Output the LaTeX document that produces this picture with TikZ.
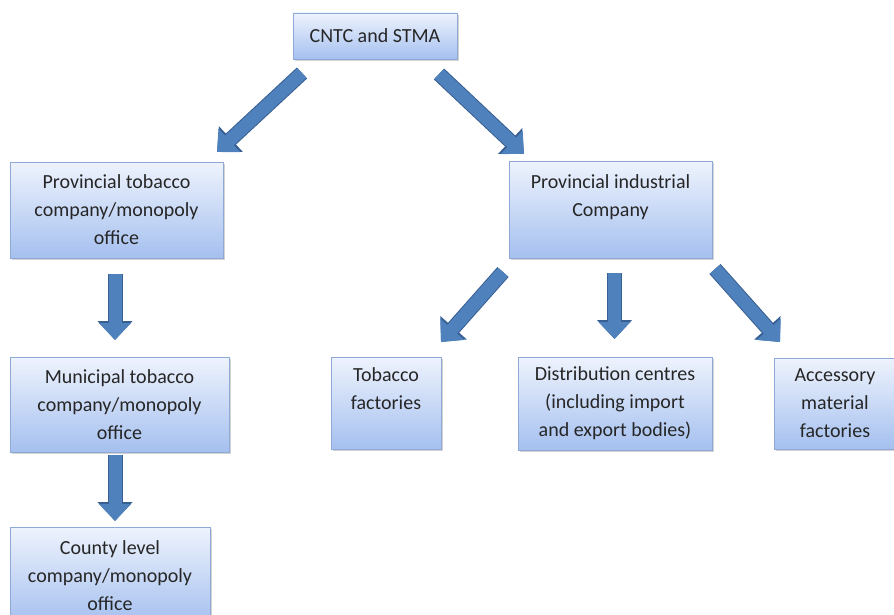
\documentclass[tikz,border=0pt]{standalone}
\usepackage{fontspec}
\setmainfont{Carlito}
\usetikzlibrary{arrows.meta,shadows}

\definecolor{boxtop}{HTML}{EEF3FD}
\definecolor{boxbot}{HTML}{A5C0EF}
\definecolor{boxedge}{HTML}{8FA9D6}
\definecolor{arrowfill}{HTML}{4F81BD}
\definecolor{arrowedge}{HTML}{385F92}

\begin{document}
\begin{tikzpicture}[x=1pt,y=-1pt,
  orgbox/.style={draw=boxedge,line width=0.8pt,top color=boxtop,bottom color=boxbot,
    align=center,inner sep=0pt,text=black!85,font=\fontsize{20}{28}\selectfont,
    drop shadow={shadow xshift=1.5pt,shadow yshift=-2pt,opacity=0.35}},
  bigarrow/.style={draw=arrowfill,line width=13pt,-{Triangle[width=31pt,length=17pt]},
    preaction={draw=arrowedge,line width=15pt,-{Triangle[width=34pt,length=19pt]}}}]
\useasboundingbox (0,0) rectangle (894,615);

% boxes
\node[orgbox,minimum width=164pt,minimum height=46pt] (cntc) at (375,36) {CNTC and STMA};
\node[orgbox,minimum width=213pt,minimum height=96pt] (provtob) at (116.5,210) {Provincial tobacco\\company/monopoly\\office};
\node[orgbox,minimum width=203pt,minimum height=97pt] (provind) at (610.5,209.5) {Provincial industrial\\Company\\~};
\node[orgbox,minimum width=219pt,minimum height=95pt] (munic) at (119.5,404.5) {Municipal tobacco\\company/monopoly\\office};
\node[orgbox,minimum width=200pt,minimum height=97pt] (county) at (110,575.5) {County level\\company/monopoly\\office};
\node[orgbox,minimum width=110pt,minimum height=92pt] (tobfac) at (386,403) {Tobacco\\factories\\~};
\node[orgbox,minimum width=194pt,minimum height=93pt] (distrib) at (615,403.5) {Distribution centres\\(including import\\and export bodies)};
\node[orgbox,minimum width=122pt,minimum height=91pt] (access) at (835,403.5) {Accessory\\material\\factories};

% arrow ends
\coordinate (a1s) at (302,73);  \coordinate (a1e) at (217,152);
\coordinate (a2s) at (439,74);  \coordinate (a2e) at (524,154);
\coordinate (a3s) at (115,274); \coordinate (a3e) at (115,340);
\coordinate (a4s) at (115,455); \coordinate (a4e) at (115,521);
\coordinate (a5s) at (503,272); \coordinate (a5e) at (441,342);
\coordinate (a6s) at (614.5,273); \coordinate (a6e) at (614.5,339);
\coordinate (a7s) at (715,269); \coordinate (a7e) at (780,342);

% arrows
\foreach \n in {1,...,7}
  \draw[bigarrow] (a\n s) -- (a\n e);
\end{tikzpicture}
\end{document}
